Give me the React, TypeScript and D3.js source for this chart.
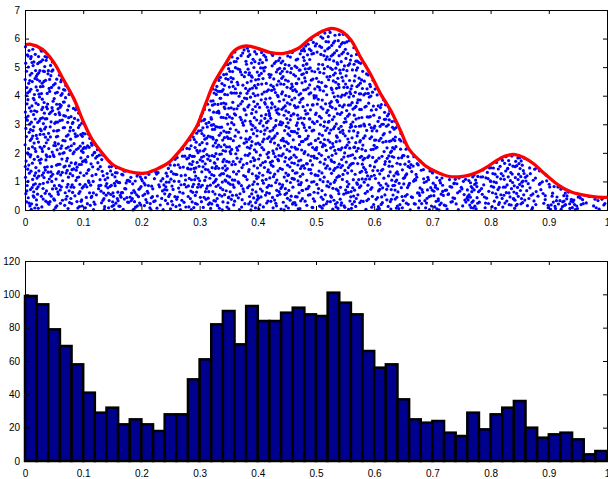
import React, { useEffect, useRef } from "react";
import * as d3 from "d3";

// envelope curve (x, height)
const curveX = [0, 0.01, 0.03, 0.05, 0.065, 0.085, 0.1, 0.115, 0.135, 0.15, 0.17, 0.19, 0.21, 0.225, 0.245, 0.26, 0.275, 0.295, 0.31, 0.325, 0.345, 0.36, 0.38, 0.4, 0.42, 0.445, 0.47, 0.49, 0.51, 0.527, 0.545, 0.56, 0.575, 0.595, 0.61, 0.63, 0.645, 0.66, 0.675, 0.69, 0.71, 0.725, 0.745, 0.76, 0.775, 0.795, 0.81, 0.825, 0.842, 0.857, 0.875, 0.89, 0.91, 0.925, 0.94, 0.96, 0.98, 1.0];
const curveY = [5.78, 5.8, 5.62, 5.15, 4.6, 3.85, 3.1, 2.48, 1.93, 1.6, 1.4, 1.3, 1.3, 1.42, 1.63, 1.93, 2.3, 2.92, 3.7, 4.45, 5.13, 5.58, 5.74, 5.66, 5.52, 5.48, 5.66, 6.0, 6.25, 6.36, 6.24, 5.95, 5.4, 4.7, 4.1, 3.42, 2.78, 2.12, 1.79, 1.52, 1.3, 1.19, 1.16, 1.2, 1.3, 1.52, 1.73, 1.89, 1.94, 1.84, 1.6, 1.32, 0.97, 0.76, 0.62, 0.52, 0.46, 0.44];

// histogram, 50 bins of width 0.02
const binCounts = [
  99, 94, 79, 69, 58, 41, 29, 32, 22, 25,
  22, 18, 28, 28, 49, 61, 82, 90, 70, 93,
  84, 84, 89, 92, 88, 87, 101, 95, 88, 66,
  56, 58, 37, 25, 23, 24, 17, 15, 29, 19,
  28, 32, 36, 20, 14, 16, 17, 13, 4, 6,
];

const xTicks = [0, 0.1, 0.2, 0.3, 0.4, 0.5, 0.6, 0.7, 0.8, 0.9, 1];
const sampleTicks = [0, 1, 2, 3, 4, 5, 6, 7];
const countTicks = [0, 20, 40, 60, 80, 100, 120];

const W = 608, H = 479;
const left = 25, right = 607;
const top1 = 10, bottom1 = 210;
const top2 = 261, bottom2 = 461;
const FONT = "'Liberation Sans', Arial, Helvetica, sans-serif";

// radical inverse, used to spread the samples of one bin without a lattice look
const halton = (n, base) => {
  let f = 1, r = 0;
  while (n > 0) {
    f /= base;
    r += f * (n % base);
    n = Math.floor(n / base);
  }
  return r;
};

function drawAxes(svg, x, y, yTicks, top, bottom) {
  const style = (g) => {
    g.select(".domain").remove();
    g.attr("font-family", FONT).attr("font-size", 10);
    g.selectAll("line").attr("stroke", "#000");
    g.selectAll("text").attr("fill", "#000");
  };
  svg.append("g")
    .attr("transform", `translate(0,${bottom})`)
    .call(d3.axisBottom(x).tickValues(xTicks).tickSize(-4).tickPadding(9).tickFormat((d) => String(d)))
    .call(style);
  svg.append("g")
    .attr("transform", `translate(0,${top})`)
    .call(d3.axisTop(x).tickValues(xTicks).tickSize(-4).tickFormat(() => ""))
    .call(style);
  svg.append("g")
    .attr("transform", `translate(${left},0)`)
    .call(d3.axisLeft(y).tickValues(yTicks).tickSize(-4).tickPadding(5).tickFormat((d) => String(d)))
    .call(style);
  svg.append("g")
    .attr("transform", `translate(${right},0)`)
    .call(d3.axisRight(y).tickValues(yTicks).tickSize(-4).tickFormat(() => ""))
    .call(style);
  svg.append("rect")
    .attr("x", left + 0.5)
    .attr("y", top + 0.5)
    .attr("width", right - left)
    .attr("height", bottom - top)
    .attr("fill", "none")
    .attr("stroke", "#000")
    .attr("stroke-width", 1);
}

const App = () => {
  const svgRef = useRef(null);

  useEffect(() => {
    const svg = d3.select(svgRef.current);
    svg.selectAll("*").remove();

    const x = d3.scaleLinear().domain([0, 1]).range([left, right]);
    const y1 = d3.scaleLinear().domain([0, 7]).range([bottom1, top1]);
    const y2 = d3.scaleLinear().domain([0, 120]).range([bottom2, top2]);
    const envelope = d3.scaleLinear().domain(curveX).range(curveY);
    const bw = 1 / binCounts.length;

    // accepted samples: as many per bin as the histogram shows, spread under the envelope
    const samples = [];
    binCounts.forEach((n, i) => {
      const shiftU = (i * 0.6180339887) % 1;
      const shiftV = (i * 0.4142135624) % 1;
      for (let k = 0; k < n; k++) {
        const j = k + 1 + i * 29;
        const u = (halton(j, 2) + shiftU) % 1;
        const v = (halton(j, 3) + shiftV) % 1;
        const sx = (i + u) * bw;
        samples.push([sx, v * envelope(sx)]);
      }
    });

    // top panel
    svg.append("g")
      .selectAll("circle")
      .data(samples)
      .join("circle")
      .attr("cx", (d) => x(d[0]))
      .attr("cy", (d) => y1(d[1]))
      .attr("r", 1.6)
      .attr("fill", "#0000ff");

    const line = d3.line()
      .x((d) => x(d[0]))
      .y((d) => y1(d[1]))
      .curve(d3.curveCatmullRom);
    svg.append("path")
      .datum(curveX.map((cx, i) => [cx, curveY[i]]))
      .attr("d", line)
      .attr("fill", "none")
      .attr("stroke", "#ff0000")
      .attr("stroke-width", 3.3)
      .attr("stroke-linejoin", "round");

    drawAxes(svg, x, y1, sampleTicks, top1, bottom1);

    // bottom panel
    svg.append("g")
      .selectAll("rect")
      .data(binCounts)
      .join("rect")
      .attr("x", (d, i) => x(i * bw))
      .attr("y", (d) => y2(d))
      .attr("width", x(bw) - x(0))
      .attr("height", (d) => bottom2 - y2(d))
      .attr("fill", "#00008f")
      .attr("stroke", "#000")
      .attr("stroke-width", 2.5);

    drawAxes(svg, x, y2, countTicks, top2, bottom2);
  }, []);

  return (
    <svg
      ref={svgRef}
      width={W}
      height={H}
      style={{ position: "absolute", left: 0, top: 0, background: "#fff" }}
    />
  );
};

export default App;
